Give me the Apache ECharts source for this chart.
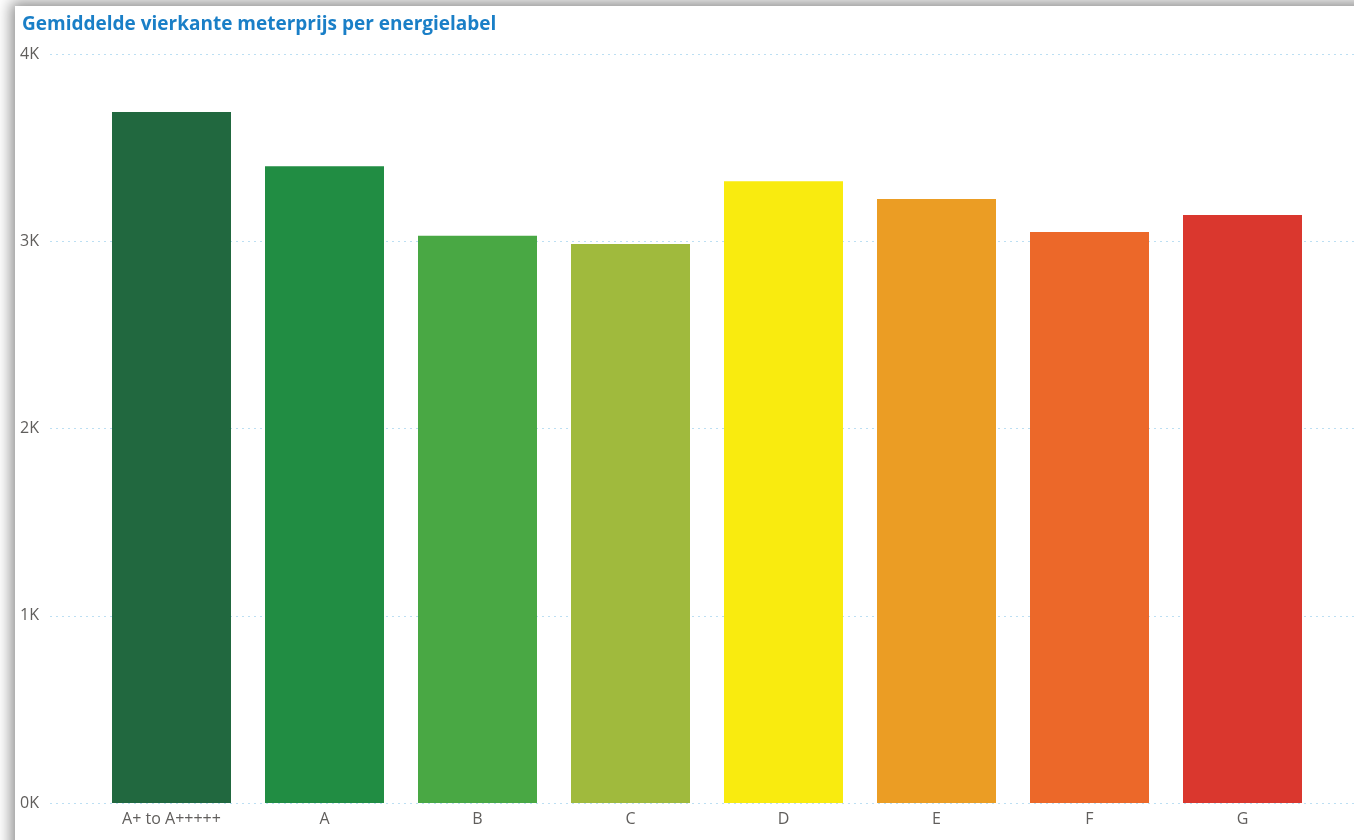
<!DOCTYPE html>
<html>
<head>
<meta charset="utf-8">
<script src="https://cdn.jsdelivr.net/npm/echarts@6/dist/echarts.min.js"></script>
<style>
html,body{margin:0;padding:0;background:#ffffff;overflow:hidden;}
#frame{position:absolute;left:15px;top:6px;width:1420px;height:900px;background:#fff;box-shadow:0 0 14px 4px rgba(0,0,0,0.45);}
#chart{position:absolute;left:0;top:0;width:1354px;height:840px;}
</style>
</head>
<body>
<div id="frame"></div>
<div id="chart"></div>
<script>
const titleText = 'Gemiddelde vierkante meterprijs per energielabel';
const categories = ['A+ to A+++++', 'A', 'B', 'C', 'D', 'E', 'F', 'G'];
const values = [3690, 3400, 3030, 2985, 3320, 3225, 3050, 3140];
const barColors = ['#21683f', '#218d43', '#49a844', '#a0ba3d', '#f9eb0f', '#eb9d24', '#ec6829', '#da372e'];
const yTicks = [0, 1000, 2000, 3000, 4000];

const chart = echarts.init(document.getElementById('chart'), null, {renderer: 'canvas'});
const font = '"Open Sans", "Noto Sans", sans-serif';
chart.setOption({
  backgroundColor: 'transparent',
  animation: false,
  title: {
    text: titleText, left: 17, top: 10,
    textStyle: {fontFamily: font, fontWeight: 'bold', fontSize: 19, color: '#1a7fc7'}
  },
  grid: [
    {left: 50, right: 0, top: 54, bottom: 37},
    {left: 95, right: 35, top: 54, bottom: 37}
  ],
  xAxis: [
    {gridIndex: 0, type: 'category', data: categories, show: false},
    {gridIndex: 1, type: 'category', data: categories,
     axisLine: {show: false}, axisTick: {show: false},
     axisLabel: {fontFamily: font, fontSize: 16, color: '#605e5c', margin: 8}}
  ],
  yAxis: [
    {gridIndex: 0, type: 'value', min: yTicks[0], max: yTicks[yTicks.length - 1], interval: 1000,
     axisLine: {show: false}, axisTick: {show: false},
     axisLabel: {fontFamily: font, fontSize: 16, color: '#605e5c', margin: 30, align: 'left',
       formatter: v => (v / 1000) + 'K', showMinLabel: true, showMaxLabel: true,
       customValues: yTicks},
     splitLine: {show: true, lineStyle: {color: '#bcdff3', width: 1, type: [2, 4]}}},
    {gridIndex: 1, type: 'value', min: yTicks[0], max: yTicks[yTicks.length - 1], interval: 1000, show: false,
     splitLine: {show: false}}
  ],
  series: [{
    type: 'bar',
    xAxisIndex: 1, yAxisIndex: 1,
    data: values.map((v, i) => ({value: v, itemStyle: {color: barColors[i]}})),
    barWidth: 119
  }]
});
</script>
</body>
</html>
